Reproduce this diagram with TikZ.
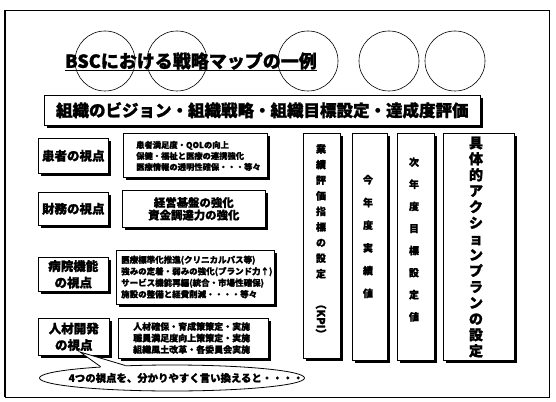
\documentclass[tikz,border=0pt]{standalone}
\usepackage{fontspec}
\setmainfont{Noto Sans CJK JP}[BoldFeatures={FakeBold=1.2}]
\usetikzlibrary{shapes.geometric,shadows,calc}
\newcommand{\fsz}[2]{\fontsize{#1}{#2}\selectfont\bfseries}
\begin{document}
\begin{tikzpicture}[x=1pt,y=-1pt,
  sbox/.style={draw=black, line width=0.6pt, fill=white, inner sep=0pt, anchor=north west,
    drop shadow={shadow xshift=2.8pt, shadow yshift=-2.8pt, fill=black, opacity=1}},
  ring/.style={draw=black, line width=0.6pt, circle, minimum size=60pt, inner sep=0pt},
  lab/.style={font=\fsz{12.5}{16.5}, align=center, inner sep=0pt},
  det/.style={align=left, inner sep=0pt},
  vtext/.style={align=center, inner sep=0pt}
]
\useasboundingbox (0,0) rectangle (556,401);
\fill[white] (0,0) rectangle (556,401);
% outer frame
\draw[line width=0.9pt] (5,10) rectangle (549,397);
\draw[line width=1.6pt] (5,10) -- (5,397);
% circles
\node[ring] (c1) at (105,61) {};
\node[ring] (c2) at (177,61) {};
\node[ring] (c3) at (308,61) {};
\node[ring] (c4) at (389,61) {};
\node[ring] (c5) at (455,61) {};
% title
\node[inner sep=0pt, font=\fsz{18}{20}] (title) at (191,61) {BSCにおける戦略マップの一例};
\draw[line width=1pt] ($(title.base west)+(0,3)$) -- ($(title.base east)+(0,3)$);
% bar
\node[sbox, minimum width=436pt, minimum height=30pt, font=\fsz{16.5}{18}] (bar) at (44,95)
  {組織のビジョン・組織戦略・組織目標設定・達成度評価};
% perspective labels
\node[sbox, minimum width=70pt, minimum height=35pt] (lab1) at (38,138) {};
\node[lab] (lab1t) at (lab1.center) {患者の視点};
\node[sbox, minimum width=70pt, minimum height=33pt] (lab2) at (38,192) {};
\node[lab] (lab2t) at (lab2.center) {財務の視点};
\node[sbox, minimum width=70pt, minimum height=34pt] (lab3) at (38,257) {};
\node[lab] (lab3t) at (lab3.center) {病院機能\\の視点};
\node[sbox, minimum width=71pt, minimum height=37pt] (lab4) at (38,318) {};
\node[lab] (lab4t) at (lab4.center) {人材開発\\の視点};
% detail boxes
\node[sbox, minimum width=144pt, minimum height=44pt] (det1) at (123,133) {};
\node[det, font=\fsz{8.3}{11}, anchor=west] (det1t) at (136,156) {患者満足度・QOLの向上\\保健・福祉と医療の連携強化\\医療情報の透明性確保・・・等々};
\node[sbox, minimum width=143pt, minimum height=37pt] (det2) at (122,190) {};
\node[vtext, font=\fsz{11.4}{12.5}] (det2t) at (det2.center) {経営基盤の強化\\資金調達力の強化};
\node[sbox, minimum width=158pt, minimum height=54pt] (det3) at (116,250) {};
\node[det, font=\fsz{8.5}{11.5}, anchor=west] (det3t) at (121,277) {医療標準化推進(クリニカルパス等)\\強みの定着・弱みの強化(ブランド力↑)\\サービス機能再編(統合・市場性確保)\\施設の整備と経費削減・・・・等々};
\node[sbox, minimum width=150pt, minimum height=40pt] (det4) at (118,318) {};
\node[det, font=\fsz{9}{11.5}, anchor=west] (det4t) at (133,338) {人材確保・育成策策定・実施\\職員満足度向上策策定・実施\\組織風土改革・各委員会実施};
% columns
\node[sbox, minimum width=37pt, minimum height=225pt] (col1) at (303,133) {};
\node[vtext, font=\fsz{10}{15.6}, anchor=north] (col1t) at (321,144) {業\\績\\評\\価\\指\\標\\の\\設\\定};
\node[inner sep=0pt, rotate=-90, font=\fsz{11}{12}] (kpi) at (321,319) {（KPI）};
\node[sbox, minimum width=35pt, minimum height=227pt] (col2) at (352,133) {};
\node[vtext, font=\fsz{10}{22.7}] (col2t) at (368,236.5) {今\\年\\度\\実\\績\\値};
\node[sbox, minimum width=37pt, minimum height=227pt] (col3) at (397,133) {};
\node[vtext, font=\fsz{10}{22.1}] (col3t) at (414,239.5) {次\\年\\度\\目\\標\\設\\定\\値};
\node[sbox, minimum width=71pt, minimum height=227pt] (col4) at (443,133) {};
\node[vtext, font=\fsz{14}{16}] (col4t) at (476,247) {具\\体\\的\\ア\\ク\\シ\\ョ\\ン\\プ\\ラ\\ン\\の\\設\\定};
% callout
\node[ellipse, draw=black, line width=0.8pt, fill=white, minimum width=265pt, minimum height=26pt, inner sep=0pt] (bubble) at (172,378) {};
\coordinate (tip) at (80,352);
\fill[white] (bubble.171) -- (tip) -- (bubble.165) -- ($(bubble.165)+(0,1.5)$) -- ($(bubble.171)+(0,1.5)$) -- cycle;
\draw[line width=0.8pt] (bubble.171) -- (tip) -- (bubble.165);
\node[inner sep=0pt, font=\fsz{10.4}{12}] (bubblet) at (186,378) {4つの視点を、分かりやすく言い換えると・・・・};
\end{tikzpicture}
\end{document}
